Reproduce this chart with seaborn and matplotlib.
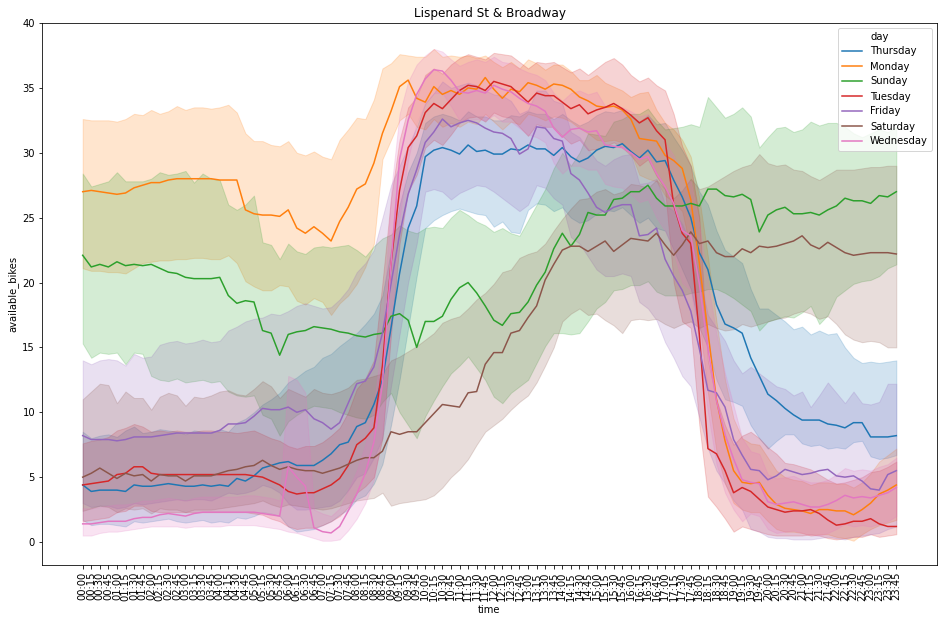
import matplotlib
matplotlib.use("Agg")
import matplotlib.pyplot as plt
from matplotlib.lines import Line2D
import seaborn as sns
import pandas as pd

# time slots (every 15 min) and days in the order they show up in the data
times = [f"{h:02d}:{m:02d}" for h in range(24) for m in (0, 15, 30, 45)]
days = ["Thursday", "Monday", "Sunday", "Tuesday", "Friday", "Saturday", "Wednesday"]

# mean available bikes per slot, plus lower / upper edge of the shaded band
thu_mean = [4.4, 3.9, 4.0, 4.0, 4.0, 3.9, 4.4, 4.3, 4.3, 4.4,
            4.5, 4.4, 4.3, 4.3, 4.4, 4.3, 4.4, 4.3, 4.9, 4.7,
            5.1, 5.7, 5.9, 6.1, 6.2, 5.9, 5.9, 5.9, 6.3, 6.8,
            7.5, 7.7, 8.9, 9.2, 10.6, 12.5, 16.5, 20.7, 24.2, 25.9,
            29.7, 30.2, 30.4, 30.2, 29.9, 30.6, 30.1, 30.2, 29.9, 29.9,
            30.3, 30.2, 30.6, 30.3, 30.3, 29.8, 30.4, 29.7, 29.3, 29.6,
            30.2, 30.5, 30.4, 30.7, 30.1, 29.6, 30.2, 29.3, 29.4, 27.9,
            26.6, 25.0, 22.3, 21.0, 18.3, 16.8, 16.5, 16.1, 14.2, 12.8,
            11.4, 10.9, 10.3, 9.8, 9.4, 9.4, 9.4, 9.1, 9.0, 8.8,
            9.2, 9.2, 8.1, 8.1, 8.1, 8.2]
thu_lo = [1.7, 1.3, 1.4, 1.4, 1.3, 1.2, 1.6, 1.5, 1.6, 1.7,
          1.8, 1.6, 1.5, 1.6, 1.7, 1.5, 1.6, 1.5, 1.9, 1.8,
          2.0, 2.3, 2.2, 2.0, 1.2, 0.8, 0.9, 1.0, 1.3, 1.6,
          2.1, 2.5, 3.3, 3.6, 4.5, 6.0, 9.0, 12.5, 16.5, 20.5,
          24.2, 24.8, 25.2, 25.5, 25.7, 25.5, 25.3, 25.2, 24.3, 24.7,
          23.9, 23.8, 25.6, 26.1, 26.0, 25.5, 25.8, 25.0, 24.6, 24.8,
          25.3, 25.6, 25.5, 25.8, 25.2, 24.6, 25.0, 24.2, 24.0, 22.5,
          21.0, 19.5, 16.5, 15.0, 12.5, 11.0, 10.8, 10.5, 9.0, 8.0,
          7.2, 7.8, 8.3, 8.3, 7.6, 7.4, 7.5, 7.2, 7.3, 7.2,
          7.7, 7.8, 6.6, 6.4, 6.5, 6.7]
thu_hi = [8.5, 8.0, 8.2, 8.3, 8.1, 8.6, 8.9, 8.4, 8.5, 8.7,
          8.6, 8.5, 8.3, 8.6, 8.5, 8.4, 8.7, 8.5, 9.2, 9.5,
          10.0, 10.6, 11.0, 11.5, 12.3, 12.7, 13.2, 13.5, 14.2, 14.5,
          15.1, 15.6, 16.1, 16.8, 17.6, 19.0, 22.5, 26.0, 28.5, 30.0,
          32.3, 32.8, 33.0, 32.8, 32.5, 33.2, 32.8, 32.8, 32.5, 32.5,
          32.9, 32.8, 33.2, 33.0, 33.0, 32.6, 33.0, 32.5, 32.1, 32.4,
          32.9, 33.2, 33.1, 33.3, 32.8, 32.4, 32.9, 32.2, 32.3, 31.2,
          30.2, 29.0, 27.0, 26.0, 24.0, 22.5, 22.0, 21.5, 19.5, 18.0,
          18.0, 17.5, 17.0, 16.4, 16.6, 16.0, 16.3, 16.0, 16.1, 15.0,
          14.2, 13.8, 13.9, 13.8, 13.9, 14.0]

mon_mean = [27.0, 27.1, 27.0, 26.9, 26.8, 26.9, 27.3, 27.5, 27.7, 27.7,
            27.9, 28.0, 28.0, 28.0, 28.0, 28.0, 27.9, 27.9, 27.9, 25.6,
            25.3, 25.2, 25.2, 25.1, 25.6, 24.2, 23.8, 24.3, 23.8, 23.2,
            24.7, 25.8, 27.2, 27.6, 29.2, 31.5, 33.2, 35.1, 35.6, 34.2,
            33.9, 35.1, 34.5, 34.8, 34.5, 35.0, 34.9, 35.8, 34.9, 34.2,
            34.9, 34.7, 35.4, 35.2, 34.9, 35.3, 35.2, 34.9, 34.3, 34.0,
            33.6, 33.5, 33.6, 33.3, 32.6, 31.1, 31.0, 30.9, 29.8, 29.4,
            28.8, 26.4, 21.5, 16.2, 11.0, 7.8, 5.5, 4.6, 4.5, 4.6,
            3.6, 2.9, 2.6, 2.5, 2.4, 2.2, 2.5, 2.5, 2.4, 2.4,
            2.1, 2.5, 3.0, 3.7, 4.0, 4.4]
mon_lo = [21.1, 20.9, 20.9, 20.8, 20.8, 20.7, 21.1, 21.5, 21.6, 21.7,
          21.7, 21.8, 21.8, 21.9, 21.9, 21.8, 21.8, 22.1, 21.5, 20.1,
          19.7, 19.4, 19.4, 19.8, 19.7, 18.6, 18.3, 18.8, 18.5, 17.5,
          18.4, 19.0, 19.9, 21.2, 23.0, 29.5, 31.0, 32.5, 33.0, 32.0,
          31.8, 32.6, 32.0, 32.3, 32.0, 32.4, 32.2, 33.0, 32.4, 31.8,
          32.4, 32.2, 33.0, 32.8, 32.5, 32.8, 32.7, 32.4, 31.9, 31.5,
          31.0, 30.9, 31.0, 30.8, 30.0, 28.3, 28.0, 27.8, 26.7, 26.2,
          25.5, 22.5, 17.0, 11.5, 7.0, 4.5, 3.0, 2.5, 2.3, 2.3,
          1.6, 1.0, 0.8, 0.8, 0.7, 0.5, 0.6, 0.6, 0.4, 0.3,
          0.1, 0.6, 1.0, 1.3, 1.5, 1.7]
mon_hi = [32.6, 32.5, 32.5, 32.5, 32.4, 32.6, 33.0, 32.9, 33.3, 33.0,
          33.2, 33.6, 33.3, 33.5, 33.5, 33.4, 33.5, 33.7, 33.1, 31.5,
          30.9, 30.9, 30.6, 30.5, 30.9, 30.0, 29.8, 30.1, 29.7, 29.5,
          31.0, 31.8, 32.7, 32.6, 34.1, 36.5, 36.9, 37.6, 37.5, 37.4,
          37.4, 38.0, 37.4, 37.5, 37.4, 37.5, 37.3, 37.5, 37.0, 36.6,
          37.0, 36.5, 37.2, 36.9, 36.4, 36.8, 36.8, 36.3, 35.6, 35.6,
          36.0, 35.4, 35.1, 34.8, 34.3, 34.6, 34.7, 33.3, 32.3, 31.8,
          31.0, 29.7, 26.5, 22.0, 17.0, 12.5, 9.5, 8.0, 7.6, 7.5,
          6.5, 5.5, 5.0, 4.8, 4.7, 4.4, 4.6, 4.6, 4.5, 4.5,
          4.2, 4.6, 5.3, 6.2, 6.7, 7.2]

sun_mean = [22.1, 21.2, 21.4, 21.2, 21.6, 21.3, 21.4, 21.3, 21.4, 21.1,
            20.8, 20.7, 20.4, 20.3, 20.3, 20.3, 20.4, 19.0, 18.4, 18.6,
            18.5, 16.3, 16.1, 14.4, 16.0, 16.2, 16.3, 16.6, 16.5, 16.4,
            16.2, 16.1, 15.9, 15.8, 16.0, 16.1, 17.4, 17.6, 17.1, 15.0,
            17.0, 17.0, 17.4, 18.7, 19.6, 20.0, 19.2, 18.2, 17.1, 16.7,
            17.6, 17.7, 18.5, 19.8, 20.8, 22.6, 23.8, 22.8, 23.7, 25.4,
            25.2, 25.2, 26.4, 26.5, 27.0, 27.0, 27.5, 26.5, 25.9, 25.9,
            25.9, 26.1, 25.9, 27.2, 27.2, 26.7, 26.6, 26.8, 26.4, 23.9,
            25.2, 25.6, 25.8, 25.3, 25.3, 25.4, 25.2, 25.6, 25.9, 26.5,
            26.3, 26.3, 26.1, 26.7, 26.6, 27.0]
sun_lo = [15.3, 14.2, 14.6, 14.5, 14.6, 13.7, 14.6, 14.5, 12.8, 12.5,
          12.4, 12.6, 12.3, 12.4, 12.5, 12.3, 12.4, 11.6, 11.3, 11.2,
          11.3, 9.8, 9.5, 8.2, 9.3, 9.8, 10.2, 10.5, 10.4, 10.3,
          10.0, 9.8, 9.6, 9.5, 9.8, 10.8, 11.5, 10.0, 9.0, 8.0,
          9.7, 10.9, 12.0, 13.0, 13.6, 14.3, 13.4, 12.5, 11.2, 10.7,
          11.5, 12.0, 12.5, 13.8, 15.1, 16.1, 16.1, 16.0, 16.1, 17.0,
          18.0, 18.5, 19.4, 19.5, 19.8, 19.8, 20.1, 19.3, 19.0, 19.0,
          19.0, 19.2, 19.3, 19.5, 19.5, 19.2, 18.8, 18.3, 17.8, 16.3,
          17.0, 17.2, 17.4, 17.3, 17.7, 18.2, 16.8, 17.5, 18.9, 19.4,
          19.9, 20.1, 20.2, 20.5, 21.1, 21.4]
sun_hi = [28.4, 27.4, 27.6, 27.8, 28.5, 27.8, 27.8, 27.8, 28.0, 28.5,
          28.3, 28.4, 28.6, 27.7, 28.4, 28.0, 27.9, 26.0, 25.6, 26.0,
          26.7, 23.1, 22.9, 21.8, 23.0, 22.4, 22.2, 22.7, 22.8, 22.7,
          22.8, 22.9, 22.5, 22.0, 22.8, 23.4, 23.7, 24.4, 24.0, 23.8,
          24.2, 24.3, 24.2, 25.0, 25.6, 25.2, 24.7, 24.4, 23.9, 24.2,
          23.8, 23.6, 24.8, 26.0, 27.2, 28.8, 30.0, 29.0, 30.0, 31.5,
          31.4, 31.3, 32.4, 32.6, 33.0, 33.0, 33.4, 32.5, 31.8, 31.9,
          32.0, 32.2, 32.0, 34.3, 33.5, 32.7, 33.0, 33.5, 32.8, 30.4,
          31.2, 31.9, 32.0, 31.6, 31.8, 32.4, 32.1, 32.3, 32.3, 32.0,
          31.5, 31.2, 31.5, 31.8, 31.6, 32.0]

tue_mean = [4.4, 4.5, 4.6, 4.7, 5.2, 5.3, 5.8, 5.8, 5.3, 5.2,
            5.2, 5.2, 5.2, 5.2, 5.2, 5.2, 5.2, 5.2, 5.2, 5.2,
            5.1, 5.0, 4.7, 4.4, 3.9, 3.7, 3.8, 3.8, 4.1, 4.4,
            4.9, 5.9, 7.5, 8.0, 8.8, 13.6, 21.5, 27.1, 30.4, 31.3,
            33.1, 33.8, 33.4, 34.1, 34.8, 35.2, 35.1, 34.8, 35.5, 35.3,
            35.1, 34.5, 33.9, 34.6, 34.4, 34.4, 33.9, 33.4, 33.7, 33.0,
            33.3, 33.5, 33.8, 33.4, 32.9, 32.3, 32.7, 31.7, 31.0, 26.0,
            23.8, 23.0, 16.0, 7.2, 6.8, 5.5, 3.8, 4.2, 3.9, 3.3,
            2.7, 2.5, 2.3, 2.4, 2.4, 2.5, 2.2, 1.7, 1.3, 1.4,
            1.6, 1.6, 1.8, 1.4, 1.2, 1.2]
tue_lo = [1.6, 1.7, 1.8, 1.9, 2.3, 2.4, 2.8, 2.8, 2.4, 2.3,
          2.3, 2.3, 2.3, 2.3, 2.3, 2.3, 2.3, 2.3, 2.3, 2.3,
          2.2, 2.1, 1.8, 1.6, 1.2, 1.0, 1.1, 1.1, 1.3, 1.6,
          2.0, 2.7, 3.8, 4.3, 5.0, 8.0, 16.0, 23.0, 27.0, 28.3,
          30.4, 31.0, 30.6, 31.4, 32.3, 32.7, 32.8, 32.4, 33.1, 32.8,
          32.7, 32.0, 31.3, 32.2, 32.0, 32.0, 31.3, 30.7, 31.0, 30.2,
          30.3, 30.5, 30.8, 30.4, 29.8, 29.0, 29.5, 28.2, 27.2, 20.0,
          17.0, 16.5, 9.0, 3.5, 2.7, 1.8, 0.8, 1.2, 1.0, 0.8,
          0.6, 0.5, 0.5, 0.5, 0.5, 0.6, 0.5, 0.3, 0.2, 0.3,
          0.4, 0.4, 0.6, 0.4, 0.5, 0.6]
tue_hi = [7.6, 7.8, 7.9, 8.1, 8.6, 8.8, 9.1, 8.9, 8.5, 8.6,
          8.5, 8.6, 8.5, 8.5, 8.6, 8.6, 8.5, 8.5, 8.4, 8.5,
          8.6, 8.3, 8.0, 7.8, 7.4, 7.2, 7.4, 7.4, 7.7, 8.2,
          8.8, 10.0, 11.8, 12.6, 14.0, 20.0, 26.5, 31.0, 33.5, 34.3,
          36.0, 36.5, 36.1, 36.8, 37.3, 37.6, 37.4, 37.2, 37.7, 37.6,
          37.5, 37.0, 36.5, 37.0, 36.9, 37.0, 36.6, 36.2, 36.5, 36.0,
          36.5, 37.0, 37.3, 36.8, 36.0, 35.5, 35.8, 35.2, 34.8, 33.0,
          30.5, 29.0, 25.0, 14.0, 11.0, 9.0, 7.5, 8.2, 8.5, 8.0,
          7.3, 6.8, 6.1, 6.0, 5.8, 5.6, 5.2, 4.8, 4.5, 4.6,
          4.8, 5.0, 5.4, 5.5, 5.8, 6.2]

fri_mean = [8.2, 7.9, 7.9, 7.9, 7.8, 7.9, 8.1, 8.1, 8.1, 8.2,
            8.3, 8.4, 8.4, 8.4, 8.4, 8.4, 8.6, 9.1, 9.1, 9.2,
            9.7, 10.3, 10.2, 10.2, 10.4, 10.0, 10.2, 9.5, 9.2, 8.7,
            9.2, 10.7, 12.2, 12.4, 13.5, 16.1, 19.9, 23.7, 26.8, 28.7,
            30.8, 31.6, 32.6, 32.0, 32.3, 32.5, 32.3, 31.9, 31.6, 31.5,
            31.1, 29.9, 30.3, 32.0, 31.9, 31.1, 30.9, 28.4, 27.9, 26.9,
            25.8, 25.4, 25.8, 26.0, 26.0, 23.6, 23.7, 24.2, 21.8, 20.5,
            19.4, 17.8, 14.9, 11.7, 11.5, 10.4, 7.9, 6.7, 5.6, 5.5,
            4.8, 5.1, 5.6, 5.4, 5.2, 5.3, 5.5, 5.6, 5.1, 5.0,
            5.1, 4.7, 4.1, 4.0, 5.2, 5.5]
fri_lo = [3.0, 2.7, 2.8, 2.8, 2.6, 2.7, 3.0, 2.9, 3.0, 3.1,
          3.2, 3.3, 3.2, 3.3, 3.3, 3.2, 3.5, 3.8, 3.7, 3.8,
          4.0, 4.4, 4.2, 3.8, 3.0, 2.5, 2.5, 2.6, 2.7, 2.8,
          3.2, 4.0, 5.0, 5.3, 6.5, 8.0, 12.0, 16.0, 20.0, 23.0,
          27.0, 27.2, 27.0, 26.4, 26.9, 27.2, 27.5, 27.4, 27.0, 26.5,
          26.0, 25.5, 26.0, 27.5, 27.3, 26.5, 26.0, 23.5, 23.0, 22.0,
          21.0, 20.5, 20.5, 20.7, 20.5, 18.5, 18.0, 17.1, 15.4, 14.2,
          12.8, 12.0, 9.6, 7.2, 5.5, 4.5, 3.2, 2.5, 1.0, 0.8,
          0.4, 0.3, 0.3, 0.2, 0.2, 0.2, 0.3, 0.4, 0.3, 0.2,
          0.4, 0.5, 0.6, 0.7, 1.0, 1.2]
fri_hi = [14.0, 13.7, 14.0, 14.1, 14.0, 13.6, 14.5, 14.2, 14.3, 15.2,
          15.4, 15.5, 15.3, 15.4, 15.6, 15.4, 15.5, 16.3, 16.6, 17.0,
          17.2, 17.3, 17.6, 17.5, 17.8, 18.2, 18.4, 18.2, 18.0, 18.1,
          18.7, 19.5, 20.8, 21.5, 22.5, 25.0, 27.5, 29.0, 30.5, 32.0,
          33.8, 34.6, 35.5, 35.0, 35.2, 35.4, 35.2, 34.8, 34.5, 34.4,
          34.0, 33.0, 33.3, 34.8, 34.8, 34.0, 33.8, 31.6, 31.2, 30.3,
          29.4, 29.0, 29.5, 29.8, 29.9, 27.6, 27.7, 28.0, 26.0, 25.5,
          24.5, 23.0, 20.5, 17.5, 16.5, 15.5, 14.0, 13.0, 13.5, 13.0,
          12.5, 12.0, 11.8, 11.3, 11.6, 10.4, 11.3, 12.3, 11.5, 10.7,
          11.6, 10.7, 10.6, 10.8, 12.2, 12.2]

sat_mean = [5.0, 5.3, 5.7, 5.3, 4.9, 5.3, 5.1, 5.2, 4.7, 5.2,
            5.1, 5.1, 4.7, 5.1, 5.1, 5.1, 5.3, 5.5, 5.6, 5.8,
            5.9, 6.3, 5.9, 5.6, 5.8, 5.6, 5.5, 5.5, 5.3, 5.5,
            5.7, 6.0, 6.3, 6.5, 6.5, 7.0, 8.5, 8.3, 8.5, 8.5,
            9.2, 9.9, 10.6, 10.5, 10.4, 11.5, 11.6, 13.7, 14.6, 14.6,
            16.1, 16.3, 17.3, 18.2, 20.2, 21.4, 22.5, 22.8, 22.8, 22.4,
            22.8, 23.2, 22.4, 22.9, 23.4, 23.3, 23.2, 23.8, 22.9, 22.1,
            22.9, 23.9, 23.0, 23.2, 22.3, 22.0, 22.0, 22.6, 22.3, 22.8,
            22.7, 22.8, 23.0, 23.2, 23.6, 22.9, 22.6, 23.1, 22.7, 22.3,
            22.1, 22.2, 22.3, 22.3, 22.3, 22.2]
sat_lo = [2.4, 2.6, 2.8, 2.7, 2.3, 2.6, 2.5, 2.6, 2.2, 2.6,
          2.5, 2.5, 2.3, 2.5, 2.5, 2.5, 2.6, 2.7, 2.8, 2.9,
          3.0, 3.2, 2.9, 2.7, 2.9, 2.8, 2.7, 2.6, 2.5, 2.6,
          2.8, 3.0, 3.2, 3.3, 3.4, 3.8, 2.8, 3.0, 3.1, 3.2,
          3.3, 3.6, 4.2, 5.0, 5.6, 6.4, 7.5, 8.5, 9.0, 9.5,
          10.2, 10.8, 11.3, 12.3, 13.6, 15.0, 17.0, 17.6, 18.0, 17.5,
          17.6, 17.1, 16.7, 16.1, 17.1, 17.2, 17.1, 17.2, 16.8, 16.5,
          16.8, 17.0, 16.5, 16.8, 16.5, 16.3, 16.4, 16.8, 16.6, 16.8,
          17.0, 17.2, 17.3, 17.6, 17.8, 17.6, 17.2, 17.4, 16.8, 16.0,
          15.6, 15.4, 15.5, 15.4, 15.0, 15.0]
sat_hi = [11.0, 11.6, 12.2, 12.1, 10.7, 11.6, 11.1, 11.1, 10.2, 11.2,
          11.5, 11.3, 10.5, 11.2, 11.1, 11.3, 11.6, 11.7, 11.4, 11.3,
          11.8, 12.4, 12.0, 11.1, 11.8, 11.5, 11.2, 11.8, 11.5, 11.4,
          11.6, 11.9, 12.5, 12.6, 12.8, 13.0, 14.0, 14.3, 14.7, 15.1,
          15.6, 16.1, 16.9, 17.2, 17.4, 18.0, 18.7, 19.2, 19.9, 20.8,
          21.0, 21.9, 22.2, 22.4, 23.0, 24.0, 24.9, 25.7, 26.4, 26.5,
          27.0, 27.2, 26.8, 27.0, 27.6, 27.5, 27.3, 27.9, 27.2, 26.5,
          27.1, 28.0, 27.2, 27.4, 27.8, 28.2, 28.6, 28.9, 29.1, 29.9,
          29.2, 29.0, 29.1, 28.7, 28.6, 28.2, 27.9, 28.3, 28.7, 28.7,
          28.7, 28.8, 28.9, 28.9, 29.0, 29.0]

wed_mean = [1.4, 1.4, 1.5, 1.6, 1.6, 1.6, 1.8, 1.9, 1.9, 2.1,
            2.2, 2.1, 2.0, 2.2, 2.3, 2.3, 2.3, 2.3, 2.3, 2.3,
            2.3, 2.2, 2.1, 2.0, 5.8, 5.0, 4.3, 1.1, 0.8, 0.7,
            1.2, 2.4, 3.7, 5.3, 7.7, 12.2, 21.5, 29.5, 32.5, 34.5,
            35.7, 36.4, 36.3, 35.6, 34.7, 34.6, 34.8, 34.6, 35.2, 34.9,
            34.7, 34.2, 33.8, 33.6, 33.2, 31.9, 31.2, 31.8, 31.9, 31.6,
            31.7, 30.6, 30.5, 30.4, 30.0, 29.5, 29.7, 28.4, 27.4, 26.1,
            24.0, 23.6, 19.9, 14.9, 10.9, 8.3, 6.4, 4.8, 4.6, 4.5,
            3.1, 2.9, 3.0, 3.1, 2.9, 2.7, 2.7, 2.9, 3.2, 3.6,
            3.4, 3.5, 3.4, 3.6, 3.8, 4.2]
wed_lo = [0.5, 0.5, 0.7, 0.8, 0.8, 0.9, 1.0, 1.1, 1.2, 1.2,
          1.2, 1.2, 1.1, 1.2, 1.2, 1.2, 1.2, 1.3, 1.3, 1.3,
          1.3, 1.2, 1.1, 1.0, 0.8, 0.7, 0.5, 0.3, 0.1, 0.1,
          0.2, 0.9, 1.8, 3.0, 4.8, 8.5, 16.5, 25.0, 29.5, 32.3,
          33.8, 34.6, 34.6, 33.6, 32.5, 32.5, 32.6, 32.5, 32.9, 32.4,
          32.4, 31.9, 31.4, 31.2, 30.8, 29.2, 28.4, 29.0, 29.0, 28.7,
          28.7, 27.6, 27.4, 27.3, 26.8, 26.2, 26.4, 25.0, 24.0, 22.4,
          20.0, 19.4, 15.3, 10.0, 6.0, 3.8, 2.5, 1.6, 2.2, 2.0,
          1.0, 0.7, 0.8, 0.9, 0.7, 0.5, 0.5, 0.7, 1.0, 1.4,
          1.2, 1.3, 1.2, 1.4, 1.6, 2.0]
wed_hi = [2.6, 2.6, 2.7, 2.8, 2.9, 2.9, 3.0, 3.2, 3.2, 3.3,
          3.4, 3.3, 3.2, 3.4, 3.5, 3.5, 3.5, 3.5, 3.5, 3.6,
          3.6, 3.5, 3.4, 3.2, 12.8, 12.5, 11.5, 2.5, 2.2, 2.0,
          2.6, 4.0, 5.5, 7.5, 10.5, 16.0, 27.0, 33.0, 35.5, 36.8,
          37.5, 38.0, 37.8, 37.2, 36.7, 37.0, 37.2, 37.0, 37.4, 37.0,
          36.9, 36.5, 36.2, 36.0, 35.6, 34.6, 34.0, 34.6, 34.8, 34.5,
          34.7, 33.6, 33.6, 33.5, 33.2, 32.8, 33.0, 31.8, 30.8, 29.8,
          28.0, 27.8, 24.5, 20.0, 16.0, 13.0, 10.5, 8.0, 7.0, 6.8,
          5.2, 4.9, 5.0, 5.1, 4.8, 4.6, 4.6, 4.8, 5.2, 5.7,
          5.5, 5.6, 5.5, 5.8, 6.0, 6.5]

series = {
    "Thursday": (thu_lo, thu_mean, thu_hi),
    "Monday": (mon_lo, mon_mean, mon_hi),
    "Sunday": (sun_lo, sun_mean, sun_hi),
    "Tuesday": (tue_lo, tue_mean, tue_hi),
    "Friday": (fri_lo, fri_mean, fri_hi),
    "Saturday": (sat_lo, sat_mean, sat_hi),
    "Wednesday": (wed_lo, wed_mean, wed_hi),
}

# long table: three rows per slot (band low, mean, band high);
# the median gives the line and the full range gives the band
rows = []
for day in days:
    lo, mid, hi = series[day]
    for i, t in enumerate(times):
        for v in (lo[i], mid[i], hi[i]):
            rows.append({"time": t, "day": day, "available_bikes": v})
df = pd.DataFrame(rows)

fig = plt.figure(figsize=(945 / 72, 623 / 72), dpi=72)
ax = fig.add_axes([42 / 945, 1 - 565 / 623, 895 / 945, 542.5 / 623])

sns.lineplot(data=df, x="time", y="available_bikes", hue="day", hue_order=days,
             estimator="median", errorbar=("pi", 100), ax=ax)

ax.set_ylim(-1.77, 40.04)
ax.set_title("Lispenard St & Broadway")
ax.tick_params(axis="x", rotation=90)

# old-style seaborn legend: "day" sits as a first entry without a handle
handles, labels = ax.get_legend_handles_labels()
blank = Line2D([], [], linestyle="none")
ax.legend([blank] + handles, ["day"] + labels, loc="upper right")

fig.savefig("out.png", dpi=72)
